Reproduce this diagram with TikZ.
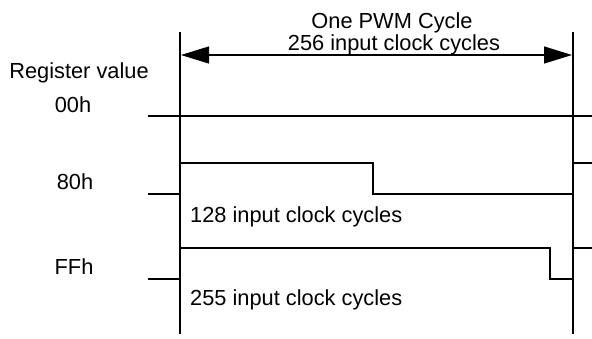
\documentclass[tikz,border=0pt]{standalone}
\usepackage{fontspec}
\setmainfont{Liberation Sans}
\usetikzlibrary{arrows.meta}
\begin{document}
\begin{tikzpicture}[x=1pt,y=-1pt,
  lbl/.style={inner sep=0pt,font=\fontsize{21.8}{24}\selectfont},
  wave/.style={line width=1.2pt,line join=miter},
  edge/.style={line width=1.2pt},
  span/.style={line width=1.2pt,{Triangle[length=28pt,width=17pt]}-{Triangle[length=28pt,width=17pt]}}]
\useasboundingbox (0,0) rectangle (592,338);

% cycle boundaries
\coordinate (lt) at (180,32);
\coordinate (lb) at (180,334);
\coordinate (rt) at (573,32);
\coordinate (rb) at (573,334);
\draw[edge] (lt) -- (lb);
\draw[edge] (rt) -- (rb);

% cycle length arrow
\coordinate (al) at (181,55);
\coordinate (ar) at (572,55);
\draw[span] (al) -- (ar);
\node[lbl,anchor=base] (t1) at (392,28) {One PWM Cycle};
\node[lbl,anchor=base] (t2) at (394,50) {256 input clock cycles};

% row labels
\node[lbl,anchor=base] (reg) at (79,78) {Register value};
\node[lbl,anchor=base] (r00) at (73,112) {00h};
\node[lbl,anchor=base] (r80) at (75,189) {80h};
\node[lbl,anchor=base] (rff) at (74,274) {FFh};

% 00h: always low
\draw[wave] (148,116) -- (592,116);

% 80h: high for half the cycle
\draw[wave] (148,194) -- (180,194) -- (180,163) -- (373,163) -- (373,194) -- (573,194);
\draw[wave] (573,163) -- (592,163);
\node[lbl,anchor=base west] (c128) at (190,222) {128 input clock cycles};

% FFh: high for all but one clock
\draw[wave] (148,279) -- (180,279) -- (180,248) -- (550,248) -- (550,279) -- (573,279);
\draw[wave] (573,248) -- (592,248);
\node[lbl,anchor=base west] (c255) at (190,305) {255 input clock cycles};
\end{tikzpicture}
\end{document}
